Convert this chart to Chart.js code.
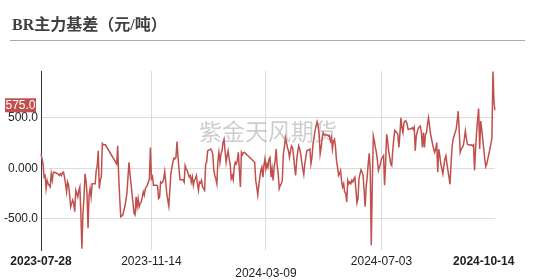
<!DOCTYPE html>
<html>
<head>
<meta charset="utf-8">
<script src="https://cdn.jsdelivr.net/npm/chart.js@4/dist/chart.umd.min.js"></script>
<style>
  html, body { margin: 0; padding: 0; background: #fff; }
  #wrap { position: relative; width: 535px; height: 280px; overflow: hidden; }
  #title {
    position: absolute; left: 12px; top: 11px;
    font: bold 16px "Liberation Serif", "Noto Sans CJK SC", serif;
    color: #404040; white-space: nowrap;
  }
  #rule { position: absolute; left: 10px; top: 40px; width: 515px; height: 0; border-top: 1px solid #aaa; }
  canvas { position: absolute; left: 0; top: 0; }
</style>
</head>
<body>
<div id="wrap">
  <canvas id="basisChart" width="535" height="280"></canvas>
  <div id="title">BR主力基差（元/吨）</div>
  <div id="rule"></div>
</div>
<script>
// BR main contract basis (yuan/ton); nulls = holiday gaps
const basis = [
  141, 92, 43, -88, -72, -203, -121, -154, -170, -186,
  -56, -121, -39, -39, -45, -49, -55, -62, -72, -56,
  -72, -43, -39, -88, -154, -235, -137, -170, -268, -383,
  -350, -317, -350, -432, -219, -252, -285, -219, -186, -448,
  -800, -448, -301, -56, -121, -252, -595, -268, -203, -285,
  -154, -154, -154, -154, -23, 26, 173, -203, -121, -88,
  245, 232, 232, 232,
  null, null, null, null, null, null, null, null, null, null,
  43,
  222, -88, -300, -481, -475, -464, -420, -383, -320, -252,
  -100, 59, -56, -150, -252, -350, -448, -464, -285, -383,
  -301, -383, -350, -334, -290, -235, -268, -203, -186, -170,
  -137, -105, 206, -105, -82, -170, -170, -170, -170, -177,
  -301, -285, -137, -147, -137, -105, -33, -137, -252, -317,
  -376, -219, -56, 10, 60, 101, 92, 108, 265, 108,
  -10, -114, -114, -114, -114, -137, 26, -7, -23, -56,
  -88, -72, -137, -88, -170,
  -121, -105, -72, -154, -219, -137, -147, -121, -186, -203,
  -219, 43, 59, 173, 180, 185, 190, 173, 141, -23,
  -72, -105, -154, 75, 157, 59, 141, 173, 255, 288,
  173, 59, 124, 173, 92, 43, -105, -72, -114, 10,
  59, 43, 75, 157, -23, -186, 157, 134, 157, 157,
  null, null, null, null, null, null, null, null, null,
  59, -121, -186, -268, -170, -88, -23, 10, -88, 26, 92, -7, 43, 10, 92, 108,
  -88, -7, -121, 10, 75, 190, 26, -56, -203, -170,
  -154, -121, 141, 206, 304, 255, 206, 173, 108, 173,
  222, 206, 124, 10, -72, 75, 157, 222, 190, 141,
  59, -7, -62, 43, 108, 173, 180, 180, 190, 43,
  108, 239, 304, 370, 419, 461, 419, 337, 141, 206,
  304, 353, 330, 330, 330, 330, 320, 327, 271, 304,
  190, 271, 288, 213, 75, 10, -72, -56, -23, -137,
  -186, -154, -235,
  -252, -334, -121, -154, -137, -154, -121, -137, -105, -88,
  -219, -343, -301, -105, -56, -16, -39, -72, -219, -383,
  -186, -88, 43, 147, -23, -765, -154, 320, 271, 206,
  157, 75, -23, 10, 43, 92, 108, 124, -170, 43,
  337, 271, 173, 108, 43, 26, 173, 288, 376, 363,
  353, 337, 206, 337, 500, 402, 353, 451, 468, 468,
  441, 386, 386, 392, 392, 402, 386, 409, 173, 320,
  363, 396, 409, 419, 353, 206, 353, 206, 337,
  353, 435, 500, 419, 337, 288, 239, 190, 157, 190,
  255, -39, 190, 124, 43, -7, -56, 26, 92, 124,
  43, -23, -88, -160, 43, 206, 288, 320, 353, 386,
  468, 566, 370, 157, 190, 206, 222, 288, 370, 298,
  239, 232, 232, 229, 232, 222, 232, -23, 190, 353,
  484, 592, 190, 468, 386, 288, 190, 92, 16, 43,
  92, 141, 190, 239, 304, 960, 660, 575
];

// x axis: which points carry a date label
const tickDates = ["2023-07-28", "2023-11-14", "2024-03-09", "2024-07-03", "2024-10-14"];
const tickIdx = [0, 108, 220, 333, 433];

// y axis ticks
const yTickValues = [-500, 0, 500];
const yTickText = ["-500.0", "0.000", "500.0"];

const lineColor = "#c0504d";
const lastValue = basis[basis.length - 1];

// watermark + last value tag
const extras = {
  id: "extras",
  beforeDatasetsDraw(chart) {
    const { ctx, chartArea } = chart;
    ctx.save();
    ctx.font = '23px "Noto Sans CJK SC"';
    ctx.fillStyle = "rgba(0,0,0,0.2)";
    ctx.textAlign = "center";
    ctx.textBaseline = "middle";
    ctx.fillText("紫金天风期货", (chartArea.left + chartArea.right) / 2, chartArea.top + 60);
    ctx.restore();
  },
  afterDraw(chart) {
    const { ctx } = chart;
    const y = chart.scales.y.getPixelForValue(lastValue) - 5;
    ctx.save();
    ctx.fillStyle = lineColor;
    ctx.fillRect(5, y - 7, 31, 14);
    ctx.fillStyle = "#fff";
    ctx.font = '12px "Liberation Sans", Arial, sans-serif';
    ctx.textAlign = "right";
    ctx.textBaseline = "middle";
    ctx.fillText(lastValue.toFixed(1), 35.5, y + 0.5);
    ctx.restore();
  }
};

new Chart(document.getElementById("basisChart").getContext("2d"), {
  type: "line",
  data: {
    labels: basis.map((_, i) => i),
    datasets: [{
      data: basis,
      borderColor: lineColor,
      borderWidth: 1.5,
      pointRadius: 0,
      tension: 0,
      spanGaps: true
    }]
  },
  options: {
    responsive: false,
    animation: false,
    layout: { padding: { top: 71, right: 40, bottom: 0, left: 0 } },
    plugins: { legend: { display: false }, tooltip: { enabled: false } },
    scales: {
      x: {
        border: { display: false },
        grid: {
          drawTicks: false,
          color: ctx => (ctx.index === 0 || ctx.index === tickIdx.length - 1) ? "rgba(0,0,0,0)" : "#dcdcdc"
        },
        afterBuildTicks: scale => { scale.ticks = tickIdx.map(v => ({ value: v })); },
        afterFit: scale => { scale.height = 30; },
        ticks: {
          autoSkip: false,
          maxRotation: 0,
          minRotation: 0,
          padding: 6,
          color: "#222",
          font: ctx => ({
            family: '"Liberation Sans", Arial, sans-serif',
            size: 12,
            lineHeight: 1,
            weight: (ctx.index === 0 || ctx.index === tickIdx.length - 1) ? "bold" : "normal"
          }),
          callback: (value, index) => index === 2 ? ["", tickDates[index]] : tickDates[index]
        }
      },
      y: {
        min: -812,
        max: 965,
        border: { display: true, color: "#333", width: 1 },
        grid: { drawTicks: false, color: "#dcdcdc" },
        afterBuildTicks: scale => { scale.ticks = yTickValues.map(v => ({ value: v })); },
        afterFit: scale => { scale.width = 41; },
        ticks: {
          padding: 3,
          color: "#222",
          font: { family: '"Liberation Sans", Arial, sans-serif', size: 12 },
          callback: value => yTickText[yTickValues.indexOf(value)]
        }
      }
    }
  },
  plugins: [extras]
});
</script>
</body>
</html>
